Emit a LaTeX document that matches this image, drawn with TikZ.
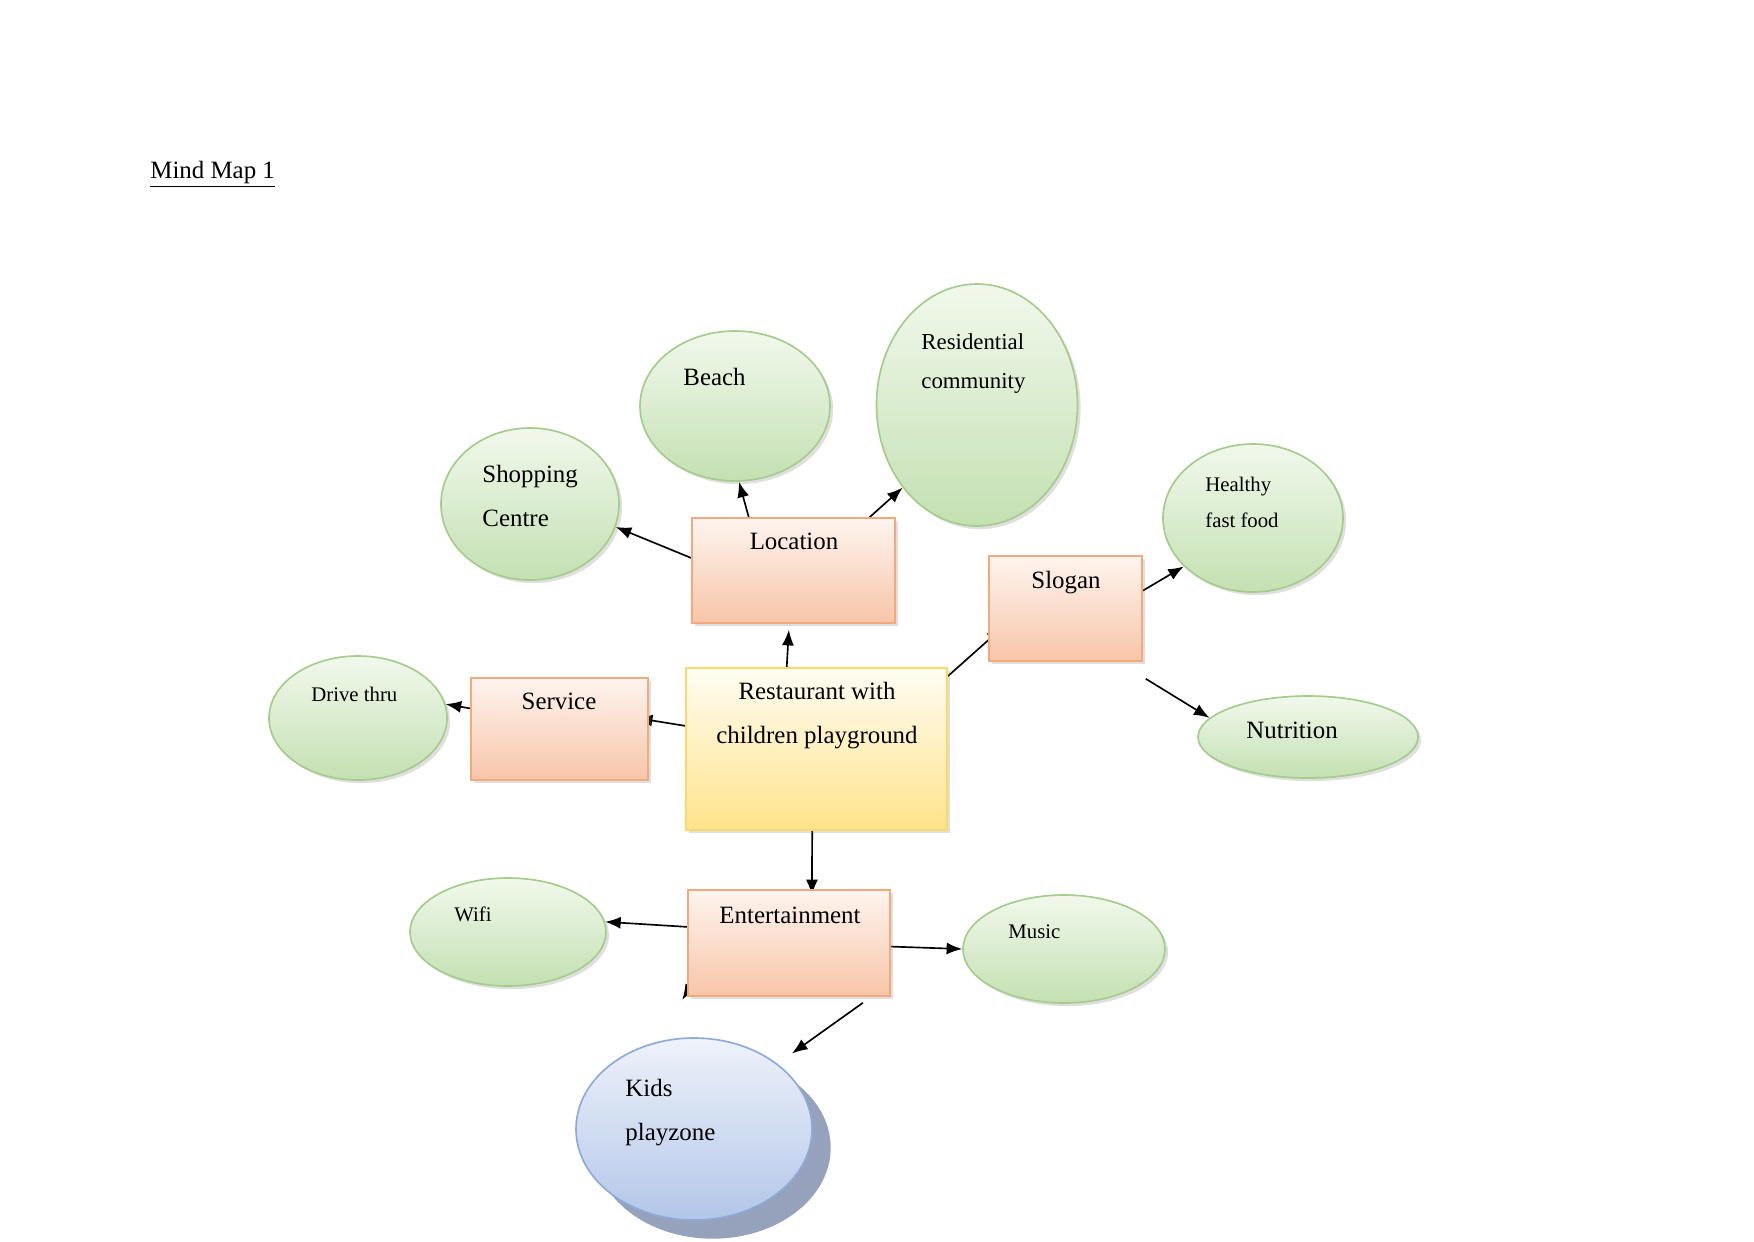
\documentclass[tikz,border=0pt]{standalone}
\usepackage{fontspec}
\setmainfont{Liberation Serif}
\usepackage{tikz}
\usepackage{xcolor}
\definecolor{mapGreenTop}{HTML}{F1F8EC}
\definecolor{mapGreenBottom}{HTML}{C4E0B2}
\definecolor{mapGreenLine}{HTML}{A4CC8B}
\definecolor{mapOrangeTop}{HTML}{FDF4EF}
\definecolor{mapOrangeBottom}{HTML}{F7C5A8}
\definecolor{mapOrangeLine}{HTML}{F2AA7C}
\definecolor{mapYellowTop}{HTML}{FFFDF3}
\definecolor{mapYellowBottom}{HTML}{FFE38B}
\definecolor{mapYellowLine}{HTML}{FFD966}
\definecolor{mapBlueTop}{HTML}{EEF2FA}
\definecolor{mapBlueBottom}{HTML}{B3C6E8}
\definecolor{mapBlueLine}{HTML}{8EAADB}
\definecolor{mapBlueShadow}{HTML}{96A2BC}
\usetikzlibrary{arrows.meta,shapes.geometric,shadows}
\newlength\mapunit
\setlength\mapunit{0.016933cm}
\pgfdeclarelayer{background}
\pgfsetlayers{background,main}

\begin{document}
\begin{tikzpicture}[x=\mapunit, y=-\mapunit,
  bubble/.style={ellipse, draw=mapGreenLine, line width=0.8pt, top color=mapGreenTop,
    bottom color=mapGreenBottom, inner sep=0pt,
    drop shadow={shadow xshift=1.5pt, shadow yshift=-1.5pt, opacity=0.25}},
  topic/.style={rectangle, draw=mapOrangeLine, line width=0.8pt, top color=mapOrangeTop,
    bottom color=mapOrangeBottom, inner sep=0pt,
    drop shadow={shadow xshift=1.5pt, shadow yshift=-1.5pt, opacity=0.25}},
  hub/.style={topic, draw=mapYellowLine, top color=mapYellowTop, bottom color=mapYellowBottom},
  bigtext/.style={inner sep=0pt, font=\fontsize{12}{21}\selectfont},
  midtext/.style={inner sep=0pt, font=\fontsize{11}{19}\selectfont},
  smalltext/.style={inner sep=0pt, font=\fontsize{10}{17}\selectfont},
  link/.style={-{Latex[length=7.5pt,width=5.8pt]}, line width=0.8pt}]
  \useasboundingbox (0,0) rectangle (1754,1241);
  \node[bigtext, anchor=north west] (title) at (150,161) {\underline{Mind Map 1}};

  \node[hub, minimum width=261\mapunit, minimum height=162\mapunit] (rest) at (816.5,749) {};
  \node[bigtext, anchor=north, align=center] (rest-t) at (817,682) {Restaurant with\\children playground};
  \node[topic, minimum width=203\mapunit, minimum height=105\mapunit] (loc) at (793.5,570.5) {};
  \node[bigtext, anchor=north] (loc-t) at (794,533) {Location};
  \node[topic, minimum width=177\mapunit, minimum height=102\mapunit] (serv) at (559.5,729) {};
  \node[bigtext, anchor=north] (serv-t) at (559,693) {Service};
  \node[topic, minimum width=153\mapunit, minimum height=105\mapunit] (slog) at (1065.5,608.5) {};
  \node[bigtext, anchor=north] (slog-t) at (1066,571) {Slogan};
  \node[topic, minimum width=202\mapunit, minimum height=106\mapunit] (ent) at (789,943) {};
  \node[bigtext, anchor=north] (ent-t) at (790,907) {Entertainment};

  \node[bubble, minimum width=190\mapunit, minimum height=150\mapunit] (beach) at (735,406) {};
  \node[bigtext, anchor=north west] (beach-t) at (683,368) {Beach};
  \node[bubble, minimum width=201\mapunit, minimum height=242\mapunit] (resid) at (977,405) {};
  \node[midtext, anchor=north west, align=left] (resid-t) at (921,333) {Residential\\community};
  \node[bubble, minimum width=178\mapunit, minimum height=152\mapunit] (shop) at (530,504) {};
  \node[bigtext, anchor=north west, align=left] (shop-t) at (482,465) {Shopping\\Centre};
  \node[bubble, minimum width=180\mapunit, minimum height=148\mapunit] (healthy) at (1253,518) {};
  \node[smalltext, anchor=north west, align=left] (healthy-t) at (1205,477) {Healthy\\fast food};
  \node[bubble, minimum width=220\mapunit, minimum height=82\mapunit] (nutr) at (1308,737) {};
  \node[bigtext, anchor=north west] (nutr-t) at (1246,722) {Nutrition};
  \node[bubble, minimum width=178\mapunit, minimum height=124\mapunit] (drive) at (358,718) {};
  \node[smalltext, anchor=north west] (drive-t) at (311,687) {Drive thru};
  \node[bubble, minimum width=196\mapunit, minimum height=108\mapunit] (wifi) at (508,932) {};
  \node[smalltext, anchor=north west] (wifi-t) at (454,906) {Wifi};
  \node[bubble, minimum width=202\mapunit, minimum height=108\mapunit] (music) at (1064,949) {};
  \node[smalltext, anchor=north west] (music-t) at (1008,924) {Music};
  \node[ellipse, draw=mapBlueLine, line width=0.8pt, top color=mapBlueTop, bottom color=mapBlueBottom,
    inner sep=0pt, minimum width=236\mapunit, minimum height=182\mapunit,
    drop shadow={shadow xshift=9pt, shadow yshift=-9pt, fill=mapBlueShadow, opacity=1}] (kids) at (694,1129) {};
  \node[bigtext, anchor=north west, align=left] (kids-t) at (625,1079) {Kids\\playzone};

  \begin{pgfonlayer}{background}
    \draw[link] (loc.130) -- (beach.273);
    \draw[link] (loc.35) -- (resid.228);
    \draw[link] (loc.173) -- (shop.345);
    \draw[link] (rest.110) -- ([shift={(0,6)}]loc.265);
    \draw[link] (rest.170) -- ([shift={(-12,0)}]serv.7);
    \draw[link] (serv.167) -- (drive.9);
    \draw[link] (rest.29) -- ([shift={(14,-12)}]slog.202);
    \draw[link] (slog.13) -- (healthy.215);
    \draw[link] ([shift={(3,17)}]slog.south east) -- (nutr.169);
    \draw[link] (rest.267) -- ([shift={(0,6)}]ent.67);
    \draw[link] (ent.171) -- (wifi.6);
    \draw[link] (ent.358) -- (music.west);
    \draw[link, shorten >=0.3cm] ([shift={(-28,6)}]ent.south east) -- (kids.38);
    \draw[link] ([shift={(16,-30)}]ent.south west) -- ([shift={(-5,3)}]ent.south west);
  \end{pgfonlayer}
\end{tikzpicture}
\end{document}
